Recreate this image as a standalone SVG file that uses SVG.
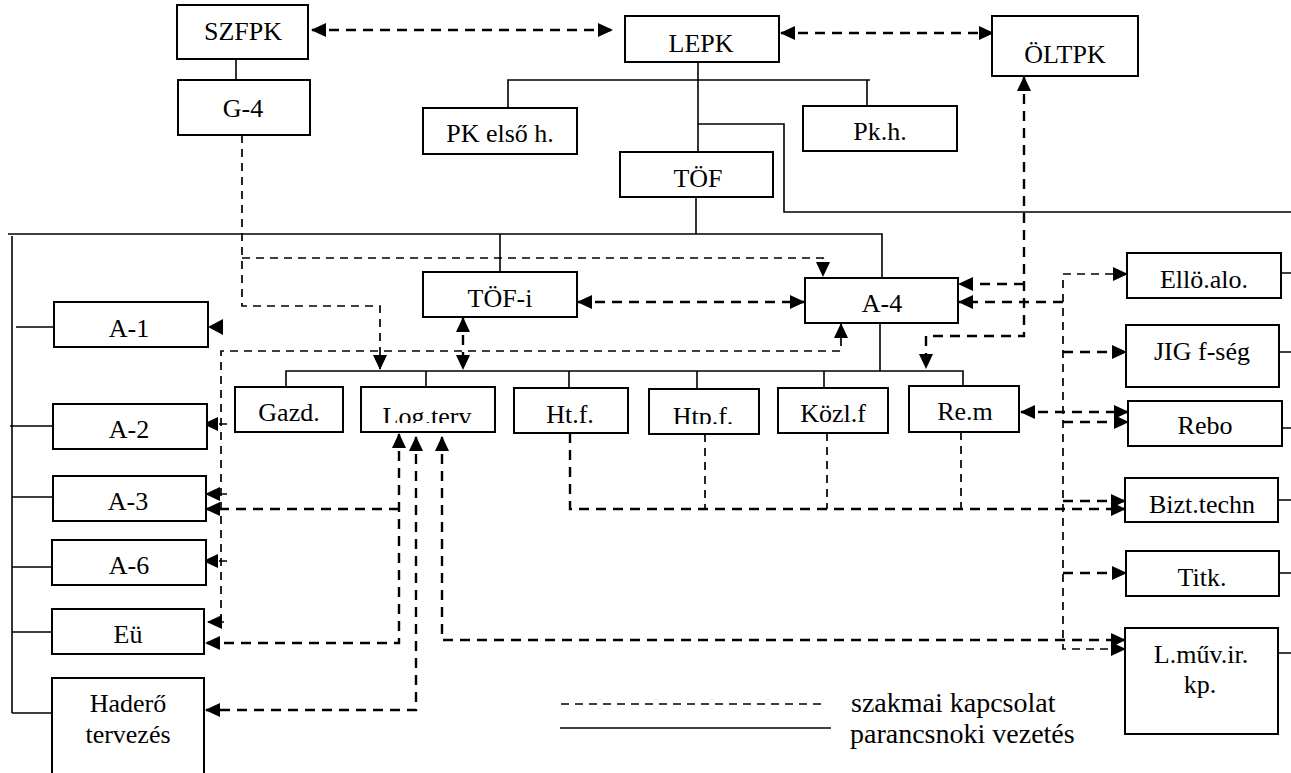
<svg xmlns="http://www.w3.org/2000/svg" width="1291" height="773" viewBox="0 0 1291 773">
<style>
.b{fill:#fff;stroke:#000;stroke-width:2}
.t{font-family:"Liberation Serif","Times New Roman",serif;font-size:26px;text-anchor:middle;fill:#000}
.lg{font-family:"Liberation Serif","Times New Roman",serif;font-size:28px;fill:#000}
.s{fill:none;stroke:#000;stroke-width:1.6}
.d{fill:none;stroke:#000;stroke-width:2.4;stroke-dasharray:10 7}
.dn{fill:none;stroke:#000;stroke-width:1.7;stroke-dasharray:8 6}
.a{marker-end:url(#ah)}
.aa{marker-start:url(#ah);marker-end:url(#ah)}
</style>
<defs>
<marker id="ah" markerUnits="userSpaceOnUse" markerWidth="15" markerHeight="14" refX="14" refY="7" orient="auto-start-reverse" overflow="visible">
<path d="M0,0 L15,7 L0,14 z" fill="#000"/>
</marker>
<clipPath id="cLog"><rect x="361" y="387" width="134" height="36"/></clipPath>
<clipPath id="cHtp"><rect x="649" y="389" width="110" height="35"/></clipPath>
</defs>

<g id="connectors">
<!-- command (solid) -->
<path class="s" d="M236,59 V80"/>
<path class="s" d="M698,62 V152"/>
<path class="s" d="M508,108 V80 H870 M867,80 V106"/>
<path class="s" d="M698,124 H784 V212 H1291"/>
<path class="s" d="M696,197 V234"/>
<path class="s" d="M8,234 H882 V278"/>
<path class="s" d="M500,234 V272"/>
<path class="s" d="M12,236 V713"/>
<path class="s" d="M16,327 H54 M10,426 H53 M12,497 H53 M12,567 H52 M12,632 H52 M12,713 H52"/>
<path class="s" d="M286,387 V371 H963 V386 M426,371 V387 M569,371 V388 M697,371 V389 M824,371 V388 M880,323 V371"/>
<path class="s" d="M1281,273 H1291 M1279,352 H1291 M1282,428 H1291 M1278,500 H1291 M1279,573 H1291 M1278,653 H1291"/>

<!-- professional (dashed) -->
<path class="d aa" d="M312,30 H612"/>
<path class="d aa" d="M781,33 H993"/>
<path class="dn a" d="M242,135 V306 H380 V369"/>
<path class="dn a" d="M242,258 H823 V276"/>
<path class="d aa" d="M578,302 H804"/>
<path class="d aa" d="M463,318 V369"/>
<path class="dn a" d="M221,622 V351 H841 V324"/>
<path class="dn a" d="M227,424 H204"/>
<path class="dn a" d="M227,494 H206"/>
<path class="dn a" d="M227,561 H204"/>
<path class="dn a" d="M224,622 H208"/>
<polygon points="208,327 223,319 223,335" fill="#000"/>
<path class="d aa" d="M399,434 V643 H206"/>
<path class="d a" d="M399,509 H206"/>
<path class="d aa" d="M416,437 V710 H206"/>
<path class="d aa" d="M442,437 V640 H1125"/>
<path class="d aa" d="M1024,77 V336 H926 V368"/>
<path class="d a" d="M1024,284 H959"/>
<path class="dn aa" d="M1127,274 H1063 V649 H1125"/>
<path class="d a" d="M1063,302 H959"/>
<path class="d a" d="M1063,352 H1126"/>
<path class="d aa" d="M1021,412 H1128"/>
<path class="d a" d="M1063,422 H1128"/>
<path class="d a" d="M1063,501 H1125"/>
<path class="d a" d="M1063,573 H1126"/>
<path class="dn" d="M705,434 V509 M827,433 V509 M961,432 V509"/>
<path class="d a" d="M570,433 V509 H1125"/>
</g>

<g id="SZFPK"><rect class="b" x="177" y="5" width="131" height="54"/><text class="t" x="243" y="40">SZFPK</text></g>
<g id="G-4"><rect class="b" x="178" y="80" width="132" height="55"/><text class="t" x="243" y="117">G-4</text></g>
<g id="LEPK"><rect class="b" x="625" y="16" width="154" height="46"/><text class="t" x="701" y="52">LEPK</text></g>
<g id="OLTPK"><rect class="b" x="992" y="16" width="146" height="60"/><text class="t" x="1065" y="63">ÖLTPK</text></g>
<g id="PKelso"><rect class="b" x="423" y="108" width="154" height="46"/><text class="t" x="500" y="142">PK első h.</text></g>
<g id="Pkh"><rect class="b" x="803" y="106" width="154" height="45"/><text class="t" x="880" y="140">Pk.h.</text></g>
<g id="TOF"><rect class="b" x="620" y="152" width="153" height="45"/><text class="t" x="698" y="187">TÖF</text></g>
<g id="TOF-i"><rect class="b" x="423" y="272" width="154" height="45"/><text class="t" x="500" y="307">TÖF-i</text></g>
<g id="A-4"><rect class="b" x="805" y="278" width="153" height="45"/><text class="t" x="882" y="312">A-4</text></g>
<g id="Gazd"><rect class="b" x="235" y="387" width="108" height="45"/><text class="t" x="289" y="421">Gazd.</text></g>
<g id="Logterv"><rect class="b" x="361" y="387" width="134" height="45"/><text class="t" x="427" y="425" clip-path="url(#cLog)">Log.terv</text></g>
<g id="Htf"><rect class="b" x="514" y="388" width="114" height="45"/><text class="t" x="570" y="423">Ht.f.</text></g>
<g id="Htpf"><rect class="b" x="649" y="389" width="110" height="45"/><text class="t" x="703" y="425" clip-path="url(#cHtp)">Htp.f.</text></g>
<g id="Kozlf"><rect class="b" x="778" y="388" width="110" height="45"/><text class="t" x="833" y="422">Közl.f</text></g>
<g id="Rem"><rect class="b" x="909" y="386" width="110" height="46"/><text class="t" x="965" y="420">Re.m</text></g>
<g id="A-1"><rect class="b" x="54" y="302" width="154" height="45"/><text class="t" x="129" y="337">A-1</text></g>
<g id="A-2"><rect class="b" x="53" y="404" width="154" height="45"/><text class="t" x="129" y="438">A-2</text></g>
<g id="A-3"><rect class="b" x="53" y="476" width="153" height="45"/><text class="t" x="128" y="510">A-3</text></g>
<g id="A-6"><rect class="b" x="52" y="540" width="154" height="45"/><text class="t" x="129" y="574">A-6</text></g>
<g id="Eu"><rect class="b" x="52" y="609" width="152" height="45"/><text class="t" x="128" y="643">Eü</text></g>
<g id="Hadero"><rect class="b" x="52" y="678" width="152" height="110"/><text class="t" x="128" y="712">Haderő</text><text class="t" x="128" y="743">tervezés</text></g>
<g id="Elloalo"><rect class="b" x="1127" y="253" width="154" height="45"/><text class="t" x="1204" y="288">Ellö.alo.</text></g>
<g id="JIG"><rect class="b" x="1126" y="325" width="153" height="62"/><text class="t" x="1202" y="360">JIG f-ség</text></g>
<g id="Rebo"><rect class="b" x="1128" y="401" width="154" height="45"/><text class="t" x="1205" y="434">Rebo</text></g>
<g id="Bizt"><rect class="b" x="1125" y="478" width="153" height="44"/><text class="t" x="1202" y="513">Bizt.techn</text></g>
<g id="Titk"><rect class="b" x="1126" y="551" width="153" height="45"/><text class="t" x="1202" y="586">Titk.</text></g>
<g id="Lmuv"><rect class="b" x="1125" y="628" width="153" height="106"/><text class="t" x="1201" y="663">L.műv.ir.</text><text class="t" x="1200" y="693">kp.</text></g>

<g id="legend">
<path d="M561,704 H821" fill="none" stroke="#000" stroke-width="1.4" stroke-dasharray="8 6"/>
<path d="M560,728 H831" fill="none" stroke="#000" stroke-width="1.6"/>
<text class="lg" x="851" y="712">szakmai kapcsolat</text>
<text class="lg" x="850" y="743">parancsnoki vezetés</text>
</g>
</svg>
